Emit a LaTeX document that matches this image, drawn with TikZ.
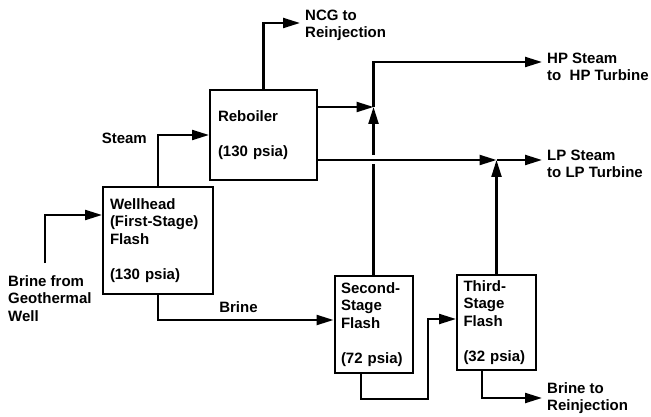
\documentclass[tikz,border=0pt]{standalone}
\usepackage{fontspec}
\setmainfont{Liberation Sans}
\usetikzlibrary{arrows.meta}

\begin{document}
\begin{tikzpicture}[x=1pt, y=-1pt,
    font=\fontsize{15}{17.5}\selectfont\bfseries,
    vessel/.style={draw, line width=2pt, align=left, inner xsep=7pt},
    flow/.style={line width=2.2pt, -{Triangle[length=17pt, width=10pt]}},
    lbl/.style={align=left, inner xsep=5pt, inner ysep=0pt, anchor=west}]
  \useasboundingbox (0,0) rectangle (651,417);

  % Flash vessels and reboiler
  \node[vessel, minimum width=110pt, minimum height=107pt, text width=96pt] (well) at (158,240.5)
    {Wellhead\\(First-Stage)\\Flash\\[17.5pt](130 psia)};
  \node[vessel, minimum width=107pt, minimum height=90pt, text width=91pt, inner xsep=8pt] (reb) at (263.5,135)
    {Reboiler\\[17.5pt](130 psia)};
  \node[vessel, minimum width=78pt, minimum height=97pt, text width=65pt, inner xsep=6.5pt] (sec) at (373.5,324.5)
    {Second-\\Stage\\Flash\\[17.5pt](72 psia)};
  \node[vessel, minimum width=79pt, minimum height=95pt, text width=66pt, inner xsep=6.5pt] (thi) at (496.5,322.5)
    {Third-\\Stage\\Flash\\[17.5pt](32 psia)};

  % Stream labels
  \node[lbl, anchor=north west, inner xsep=0pt] (brsrc) at (8,275) {Brine from\\Geothermal\\Well};
  \node[lbl] (ncg) at (300,25.5) {NCG to\\Reinjection};
  \node[lbl] (hp) at (542,67) {HP Steam\\to \ HP Turbine};
  \node[lbl] (lp) at (542,164) {LP Steam\\to LP Turbine};
  \node[lbl] (brout) at (542,398) {Brine to\\Reinjection};
  \node[anchor=east, inner sep=0pt] (steamlbl) at (147,138) {Steam};
  \node[inner sep=0pt] (brinelbl) at (238.5,307) {Brine};

  % Junctions
  \coordinate (hpj) at (sec.north |- 0,107);
  \coordinate (lpj) at (thi.north |- 0,160);

  % Streams
  \draw[flow] ([xshift=-5pt, yshift=12pt]brsrc.north) |- ([yshift=25.5pt]well.west);
  \draw[flow] (well.north) |- (reb.west);
  \draw[flow] (reb.north) |- ([yshift=2.5pt]ncg.west);
  \draw[flow] (reb.east |- hpj) -- (hpj);
  \draw[flow] (sec.north) -- (hpj);
  \draw[flow] (hpj) |- ([yshift=5pt]hp.west);
  \draw[flow, preaction={draw=white, line width=9pt, -}] (reb.east |- lpj) -- (lpj);
  \draw[flow] (thi.north) -- (lpj);
  \draw[flow] (lpj) |- ([yshift=4pt]lp.west);
  \draw[flow] (well.south) |- ([yshift=4.5pt]sec.west);
  \draw[flow] ([xshift=-12.5pt]sec.south) -- ++(0,25) -- ++(67,0) |- ([yshift=3.5pt]thi.west);
  \draw[flow] ([xshift=-14.5pt]thi.south) |- (brout.west);
\end{tikzpicture}
\end{document}
